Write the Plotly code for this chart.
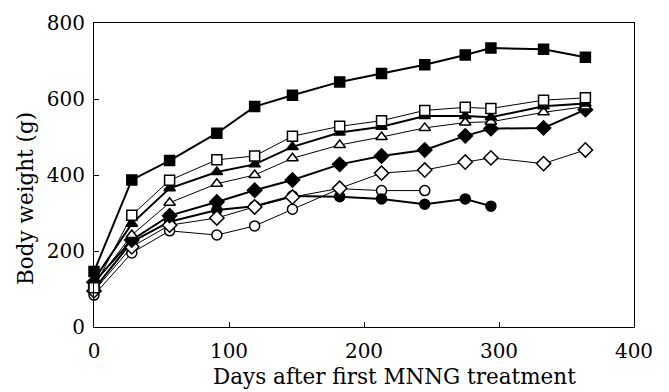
import plotly.graph_objects as go

days = [0, 28, 56, 91, 119, 147, 182, 213, 245, 275, 294, 333, 364]

filled_square = [146, 387, 438, 510, 580, 610, 645, 667, 690, 716, 734, 731, 710]
open_square = [103, 294, 386, 440, 450, 502, 528, 543, 570, 578, 575, 597, 603]
filled_triangle = [124, 272, 365, 408, 428, 474, 512, 527, 555, 555, 552, 581, 588]
open_triangle = [112, 242, 327, 377, 400, 444, 479, 500, 524, 538, 540, 565, 580]
filled_diamond = [118, 229, 293, 329, 360, 387, 428, 450, 466, 503, 522, 524, 572]
open_diamond = [95, 211, 268, 287, 316, 342, 365, 405, 413, 434, 445, 430, 466]
filled_circle_days = [0, 28, 56, 91, 119, 147, 182, 213, 245, 275, 294]
filled_circle = [100, 224, 277, 308, 318, 345, 343, 337, 323, 337, 318]
open_circle_days = [0, 28, 56, 91, 119, 147, 182, 213, 245]
open_circle = [84, 195, 253, 242, 266, 310, 364, 359, 359]

x_ticks = [0, 100, 200, 300, 400]
y_ticks = [0, 200, 400, 600, 800]
x_title = "Days after first MNNG treatment"
y_title = "Body weight (g)"

series = [
    (open_circle_days, open_circle, "circle", False, 1.0),
    (filled_circle_days, filled_circle, "circle", True, 2.0),
    (days, open_diamond, "diamond", False, 1.0),
    (days, filled_diamond, "diamond", True, 2.0),
    (days, open_triangle, "triangle-up", False, 1.0),
    (days, filled_triangle, "triangle-up", True, 2.0),
    (days, open_square, "square", False, 1.0),
    (days, filled_square, "square", True, 2.0),
]

fig = go.Figure()
for x, y, sym, filled, lw in series:
    fig.add_trace(go.Scatter(
        x=x, y=y, mode="lines+markers",
        line=dict(color="black", width=lw),
        marker=dict(symbol=sym,
                    size=11 if sym == "diamond" else 10,
                    color="black" if filled else "white",
                    line=dict(color="black", width=1.5)),
        showlegend=False, cliponaxis=False,
    ))

tickfont = dict(family="DejaVu Serif", size=20, color="black")
fig.update_layout(
    width=661, height=384,
    margin=dict(l=86, r=35, t=15, b=65, autoexpand=False),
    paper_bgcolor="white", plot_bgcolor="white",
    font=tickfont,
    xaxis=dict(range=[0, 400], tickvals=x_ticks,
               ticks="inside", ticklen=5, tickcolor="black",
               showline=True, linecolor="black", linewidth=1.2, mirror=True,
               showgrid=False, zeroline=False, automargin=False,
               ticklabelstandoff=6, tickfont=tickfont),
    yaxis=dict(range=[0, 800], tickvals=y_ticks, showticklabels=False,
               ticks="inside", ticklen=5, tickcolor="black",
               showline=True, linecolor="black", linewidth=1.2, mirror=True,
               showgrid=False, zeroline=False, automargin=False),
    yaxis2=dict(range=[0, 800], tickvals=y_ticks, overlaying="y",
                anchor="free", position=0, side="left",
                ticks="outside", ticklen=5, tickcolor="rgba(0,0,0,0)",
                showline=False, showgrid=False, zeroline=False,
                automargin=False, tickfont=tickfont),
    annotations=[
        dict(text=x_title, xref="paper", yref="paper", x=0.557, y=-0.164,
             xanchor="center", yanchor="middle", showarrow=False,
             font=dict(family="DejaVu Serif", size=21.5, color="black")),
        dict(text=y_title, xref="paper", yref="paper", x=-0.128, y=0.424,
             xanchor="center", yanchor="middle", showarrow=False, textangle=-90,
             font=dict(family="DejaVu Serif", size=21.5, color="black")),
    ],
)
# invisible helper trace so the label-only axis is drawn
fig.add_trace(go.Scatter(x=[None], y=[None], yaxis="y2", showlegend=False,
                         hoverinfo="skip"))

fig.write_html("out.html")
